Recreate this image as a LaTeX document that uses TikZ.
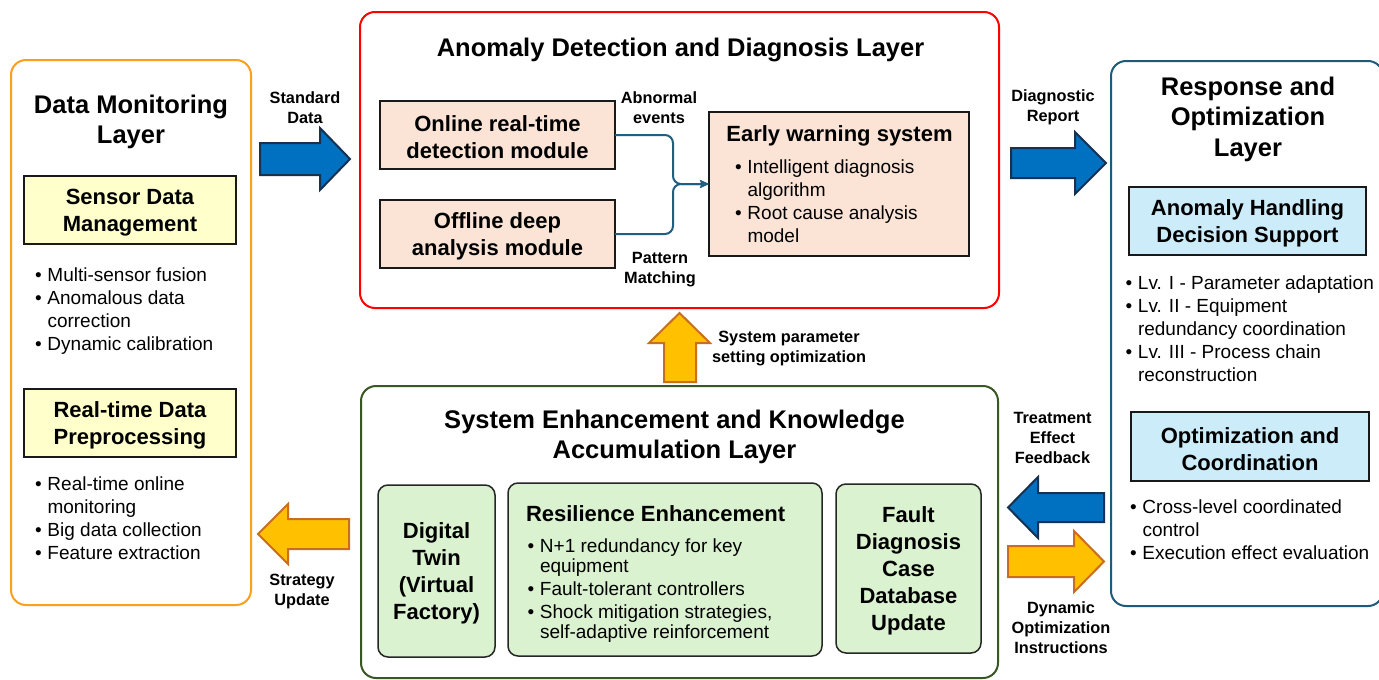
\documentclass[tikz,border=0pt]{standalone}
\usepackage{fontspec}
\setmainfont{Liberation Sans}
\usetikzlibrary{arrows.meta}

\definecolor{orangeB}{RGB}{250,160,30}
\definecolor{redB}{RGB}{255,0,0}
\definecolor{tealB}{RGB}{31,90,120}
\definecolor{greenB}{RGB}{56,87,35}
\definecolor{yellowF}{RGB}{255,255,204}
\definecolor{peachF}{RGB}{251,228,214}
\definecolor{blueF}{RGB}{204,236,250}
\definecolor{greenF}{RGB}{218,242,208}
\definecolor{arrBlue}{RGB}{0,112,192}
\definecolor{arrBlueB}{RGB}{22,50,80}
\definecolor{arrYellow}{RGB}{255,192,0}
\definecolor{arrYellowB}{RGB}{200,110,30}
\definecolor{connC}{RGB}{31,95,128}

% bullet column for item lists
\newcommand\bu{\makebox[12.5pt][l]{•}}
% taller first line, so box captions sit optically centred
\newcommand\capstrut{\rule{0pt}{21pt}}

\begin{document}
\begin{tikzpicture}[x=1pt, y=-1pt,
  every node/.style={inner sep=0pt, outer sep=0pt},
  layer/.style={draw, line width=2pt, rounded corners=15pt, anchor=north west, fill=white},
  ltitle/.style={align=center, font=\bfseries\fontsize{25.5}{30.5}\selectfont},
  sub/.style={draw=black!90, line width=2pt, anchor=north west, align=center,
              font=\bfseries\fontsize{22}{27}\selectfont},
  gbox/.style={draw=black!85, line width=1.5pt, rounded corners=10pt, anchor=north west,
               fill=greenF, align=center, font=\bfseries\fontsize{22}{27}\selectfont},
  subtitle/.style={font=\bfseries\fontsize{22}{27}\selectfont},
  blist/.style={anchor=base west, font=\fontsize{19}{23}\selectfont},
  rlist/.style={anchor=base west, font=\fontsize{19}{20}\selectfont},
  lbl/.style={align=center, font=\bfseries\fontsize{16.3}{20}\selectfont},
  bluearrow/.style={fill=arrBlue, draw=arrBlueB, line width=2pt, line join=miter},
  yellowarrow/.style={fill=arrYellow, draw=arrYellowB, line width=2pt, line join=miter},
  conn/.style={draw=connC, line width=2pt, rounded corners=8pt,
               -{Stealth[length=9pt, width=8pt, inset=1.5pt]}}]

\useasboundingbox (0,0) rectangle (1379,680);

% ---------------- Data Monitoring Layer ----------------
\node[layer, draw=orangeB, minimum width=240pt, minimum height=545pt] (dml) at (11,60) {};
\node[ltitle] (dmlT) at (131,122) {Data Monitoring\\Layer};
\node[sub, fill=yellowF, minimum width=212pt, minimum height=68pt] (sdm) at (24,176) {\capstrut Sensor Data\\Management};
\node[blist] (sdmL) at (35,281.5) {\begin{tabular}[t]{@{}l@{}l@{}}
  \bu & Multi-sensor fusion\\
  \bu & Anomalous data\\
      & correction\\
  \bu & Dynamic calibration
\end{tabular}};
\node[sub, fill=yellowF, minimum width=212pt, minimum height=68pt] (rdp) at (24,389) {\capstrut Real-time Data\\Preprocessing};
\node[blist] (rdpL) at (35,490.5) {\begin{tabular}[t]{@{}l@{}l@{}}
  \bu & Real-time online\\
      & monitoring\\
  \bu & Big data collection\\
  \bu & Feature extraction
\end{tabular}};

% ---------------- Anomaly Detection and Diagnosis Layer ----------------
\node[layer, draw=redB, minimum width=639pt, minimum height=296pt] (adl) at (360,12) {};
\node[ltitle] (adlT) at (680.5,49.5) {Anomaly Detection and Diagnosis Layer};
\node[sub, fill=peachF, minimum width=235pt, minimum height=68pt] (onl) at (380,101) {\capstrut Online real-time\\detection module};
\node[sub, fill=peachF, minimum width=235pt, minimum height=68pt] (off) at (380,200) {\capstrut Offline deep\\analysis module};
\node[sub, fill=peachF, minimum width=260pt, minimum height=144pt] (ews) at (709,112) {};
\node[subtitle] (ewsT) at (839.5,135.5) {Early warning system};
\node[blist] (ewsL) at (735,173) {\begin{tabular}[t]{@{}l@{}l@{}}
  \bu & Intelligent diagnosis\\
      & algorithm\\
  \bu & Root cause analysis\\
      & model
\end{tabular}};
\coordinate (jn) at (673,184);
\draw[conn] (onl.east) -| (jn) -- (ews.west);
\draw[conn] (off.east) -| (jn) -- (ews.west);
\node[lbl] (abn) at (659,108) {Abnormal\\events};
\node[lbl] (pat) at (660,270) {Pattern\\Matching};

% ---------------- Response and Optimization Layer ----------------
\node[layer, draw=tealB, minimum width=272pt, minimum height=545pt] (rol) at (1111,61) {};
\node[ltitle] (rolT) at (1248,119) {Response and\\Optimization\\Layer};
\node[sub, fill=blueF, minimum width=237pt, minimum height=68pt] (ahds) at (1129,187) {\capstrut Anomaly Handling\\Decision Support};
\node[blist] (ahdsL) at (1125.5,289.5) {\begin{tabular}[t]{@{}l@{}l@{}}
  \bu & Lv. I - Parameter adaptation\\
  \bu & Lv. II - Equipment\\
      & redundancy coordination\\
  \bu & Lv. III - Process chain\\
      & reconstruction
\end{tabular}};
\node[sub, fill=blueF, minimum width=238pt, minimum height=69pt] (oc) at (1131,412) {\capstrut Optimization and\\Coordination};
\node[blist] (ocL) at (1130,513.3) {\begin{tabular}[t]{@{}l@{}l@{}}
  \bu & Cross-level coordinated\\
      & control\\
  \bu & Execution effect evaluation
\end{tabular}};

% ---------------- System Enhancement and Knowledge Accumulation Layer ----------------
\node[layer, draw=greenB, minimum width=637pt, minimum height=292pt] (sel) at (361,386) {};
\node[ltitle] (selT) at (674.5,437) {System Enhancement and Knowledge\\Accumulation Layer};
\node[gbox, minimum width=117pt, minimum height=172pt] (dt) at (378,485) {\capstrut Digital\\Twin\\(Virtual\\Factory)};
\node[gbox, minimum width=314pt, minimum height=173pt] (re) at (508,483) {};
\node[subtitle, anchor=west] (reT) at (526,513.5) {Resilience Enhancement};
\node[rlist] (reL) at (527.5,552) {\begin{tabular}[t]{@{}l@{}l@{}}
  \bu & N+1 redundancy for key\\
      & equipment\\[3pt]
  \bu & Fault-tolerant controllers\\[3pt]
  \bu & Shock mitigation strategies,\\
      & self-adaptive reinforcement
\end{tabular}};
\node[gbox, minimum width=145pt, minimum height=169pt] (fdc) at (836,484) {\capstrut Fault\\Diagnosis\\Case\\Database\\Update};

% ---------------- Block arrows between layers ----------------
% Standard Data: monitoring -> detection
\draw[bluearrow] (260,143) -- (320,143) -- (320,128) -- (350,159) -- (320,190) -- (320,175) -- (260,175) -- cycle;
\node[lbl] (stdL) at (305,107.5) {Standard\\Data};
% Diagnostic Report: detection -> response
\draw[bluearrow] (1011,148) -- (1075,148) -- (1075,132) -- (1106,163) -- (1075,194) -- (1075,178) -- (1011,178) -- cycle;
\node[lbl] (diaL) at (1053,107.5) {Diagnostic\\Report};
% Treatment Effect Feedback: response -> enhancement
\draw[bluearrow] (1104,493) -- (1038,493) -- (1038,477) -- (1008,507.5) -- (1038,538) -- (1038,522) -- (1104,522) -- cycle;
\node[lbl] (trtL) at (1052.5,438) {Treatment\\Effect\\Feedback};
% Dynamic Optimization Instructions: enhancement -> response
\draw[yellowarrow] (1008,546) -- (1074,546) -- (1074,531) -- (1104,561.5) -- (1074,592) -- (1074,577) -- (1008,577) -- cycle;
\node[lbl] (dynL) at (1061,628) {Dynamic\\Optimization\\Instructions};
% Strategy Update: enhancement -> monitoring
\draw[yellowarrow] (349,519) -- (288,519) -- (288,504) -- (258,534) -- (288,564) -- (288,549) -- (349,549) -- cycle;
\node[lbl] (strL) at (302,591.5) {Strategy\\Update};
% System parameter setting optimization: enhancement -> detection
\draw[yellowarrow] (664,382) -- (664,343) -- (649,343) -- (679.5,313) -- (710,343) -- (696,343) -- (696,382) -- cycle;
\node[lbl] (sysL) at (789,349) {System parameter\\setting optimization};

\end{tikzpicture}
\end{document}
